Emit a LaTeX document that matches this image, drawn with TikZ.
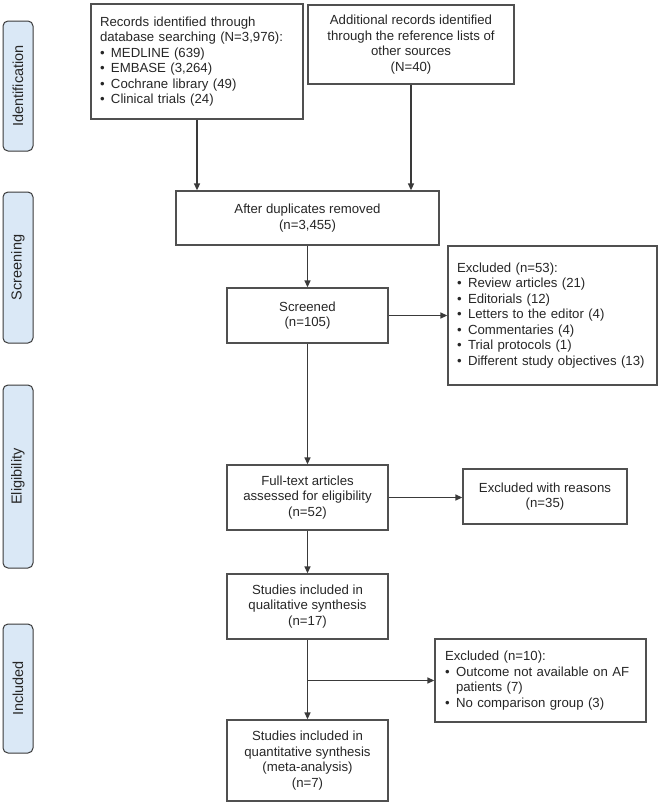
\documentclass[tikz,border=0pt]{standalone}
\usepackage{fontspec}
\setmainfont{Liberation Sans}
\usetikzlibrary{arrows.meta}
\definecolor{linec}{HTML}{3A3A3A}
\definecolor{boxc}{HTML}{505050}
\definecolor{textc}{HTML}{262626}
\definecolor{barfill}{HTML}{DAE8F6}
\newcommand\bul{\makebox[11pt][l]{\textbullet}}
\begin{document}
\begin{tikzpicture}[x=1pt,y=-1pt,
  box/.style={draw=boxc, line width=1.3pt, text=textc, font=\fontsize{13.2}{15.5}\selectfont, align=center, inner sep=0pt},
  lbox/.style={box, align=left, inner xsep=9pt},
  bar/.style={draw=linec, line width=1pt, fill=barfill, rounded corners=5pt, rotate=90, minimum height=30pt, inner sep=0pt, text=textc, font=\fontsize{14.5}{16}\selectfont},
  arr/.style={draw=linec, line width=1.5pt, -{Triangle[length=7pt,width=6pt]}}]
\useasboundingbox (0,0) rectangle (660,806);

% side bars
\node[bar, minimum width=130pt] (bid) at (18,86) {Identification};
\node[bar, minimum width=151pt] (bsc) at (18,267.5) {Screening};
\node[bar, minimum width=183pt] (bel) at (18,476.5) {Eligibility};
\node[bar, minimum width=129pt] (bin) at (18,688.5) {Included};

% boxes
\node[lbox, text width=194pt, minimum height=115pt] (rec) at (197,61.5) {Records identified through\\database searching (N=3,976):\\\bul MEDLINE (639)\\\bul EMBASE (3,264)\\\bul Cochrane library (49)\\\bul Clinical trials (24)};
\node[box, minimum width=206pt, minimum height=79pt] (add) at (411,44.5) {Additional records identified\\through the reference lists of\\other sources\\(N=40)};
\node[box, minimum width=263pt, minimum height=54pt] (dup) at (307.5,218) {After duplicates removed\\(n=3,455)};
\node[box, minimum width=161pt, minimum height=55pt] (scr) at (307.5,315.5) {Screened\\(n=105)};
\node[lbox, text width=191pt, minimum height=139pt] (ex1) at (552.5,315.5) {Excluded (n=53):\\\bul Review articles (21)\\\bul Editorials (12)\\\bul Letters to the editor (4)\\\bul Commentaries (4)\\\bul Trial protocols (1)\\\bul Different study objectives (13)};
\node[box, minimum width=161pt, minimum height=65pt] (ft) at (307.5,497.5) {Full-text articles\\assessed for eligibility\\(n=52)};
\node[box, minimum width=164pt, minimum height=55pt] (ex2) at (545,496.5) {Excluded with reasons\\(n=35)};
\node[box, minimum width=161pt, minimum height=65pt] (qual) at (307.5,606.5) {Studies included in\\qualitative synthesis\\(n=17)};
\node[lbox, inner xsep=10pt, text width=191pt, minimum height=83pt] (ex3) at (540.5,680.5) {Excluded (n=10):\\\bul Outcome not available on AF\\\hspace*{11pt}patients (7)\\\bul No comparison group (3)};
\node[box, minimum width=161pt, minimum height=81pt] (quan) at (307.5,760.5) {Studies included in\\quantitative synthesis\\(meta-analysis)\\(n=7)};

% connectors
\draw[arr] (rec.south) -- (rec.south |- dup.north);
\draw[arr] (add.south) -- (add.south |- dup.north);
\draw[arr] (dup.south) -- (scr.north);
\draw[arr] (scr.east) -- (scr.east -| ex1.west);
\draw[arr] (scr.south) -- (ft.north);
\draw[arr] (ft.east) -- (ft.east -| ex2.west);
\draw[arr] (ft.south) -- (qual.north);
\draw[arr] (qual.south) -- (quan.north);
\coordinate (br) at (qual.south |- ex3.west);
\draw[arr] (br) -- (ex3.west);
\end{tikzpicture}
\end{document}
